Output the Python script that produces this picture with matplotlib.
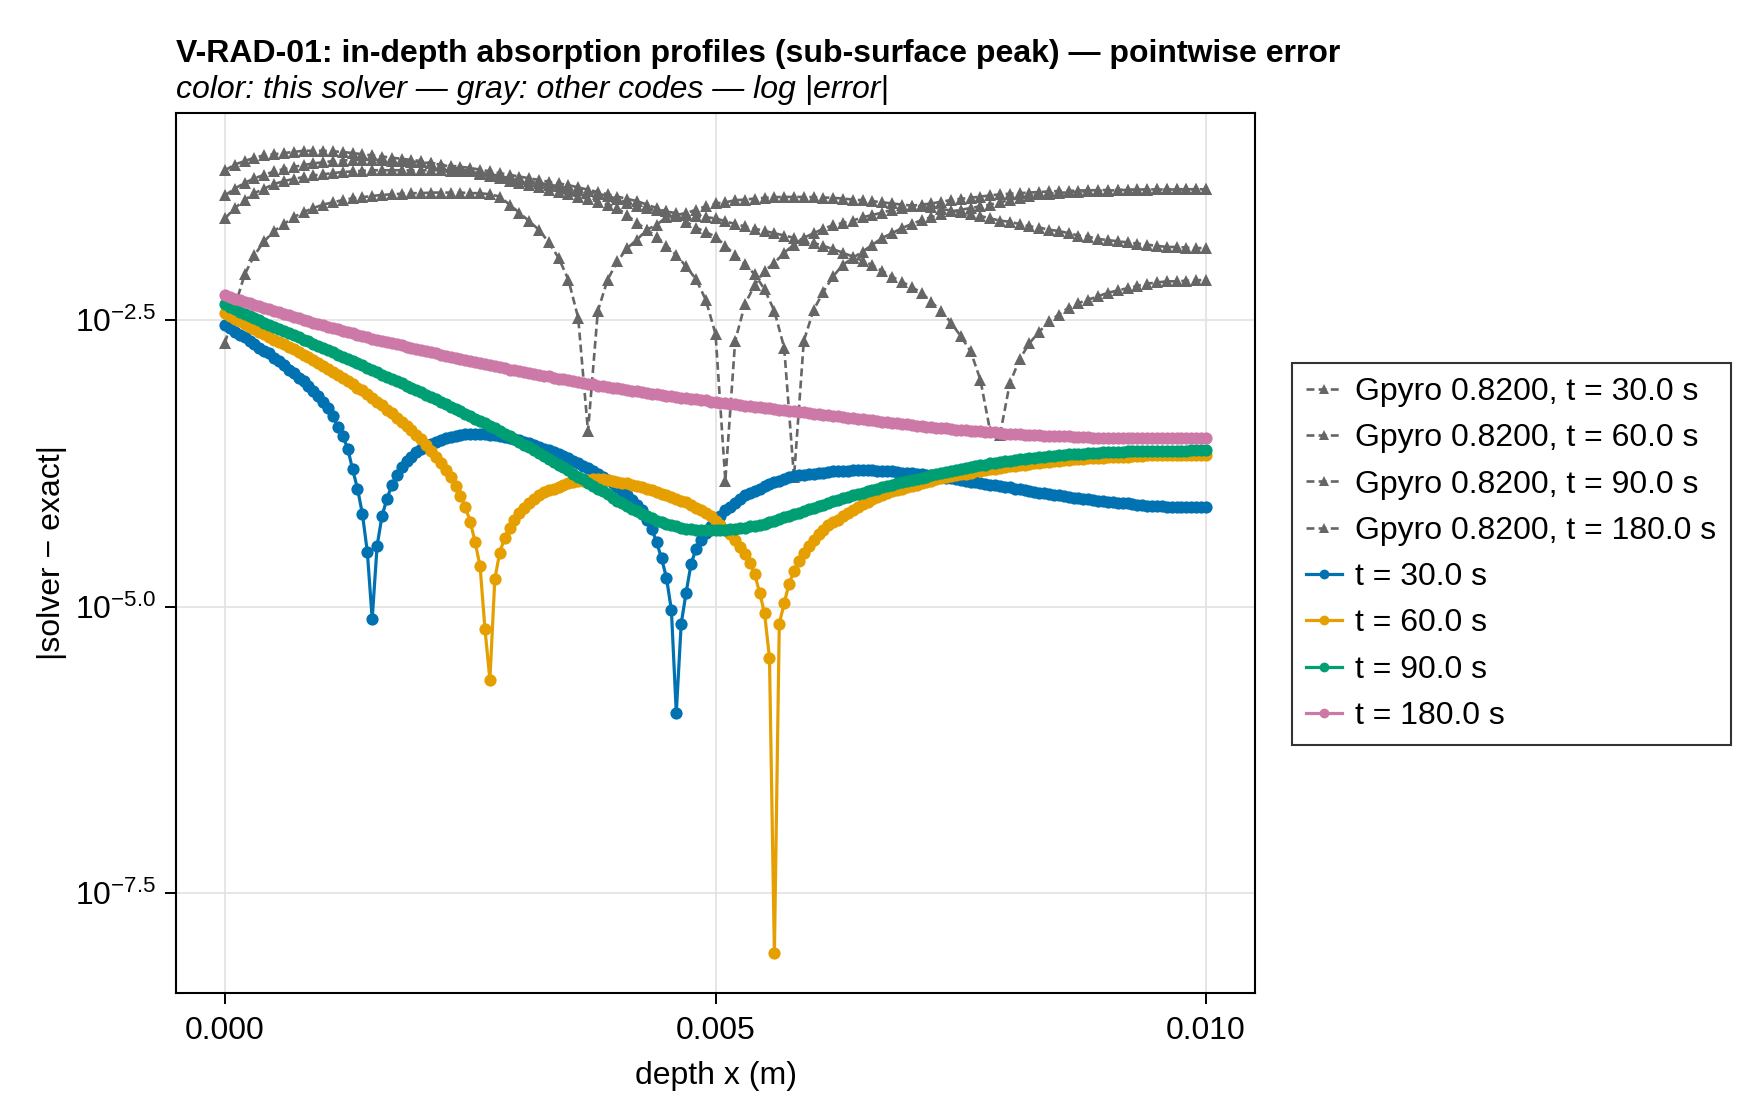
import numpy as np
import matplotlib
matplotlib.use('Agg')
import matplotlib.pyplot as plt
from matplotlib.ticker import NullLocator

plt.rcParams['font.family'] = ['Liberation Sans', 'DejaVu Sans']
plt.rcParams['mathtext.fontset'] = 'custom'
plt.rcParams['mathtext.rm'] = 'Liberation Sans'
plt.rcParams['mathtext.it'] = 'Liberation Sans:italic'
plt.rcParams['mathtext.bf'] = 'Liberation Sans:bold'

# ---------------------------------------------------------------- data
# depth grids (mm): solver mesh every 0.05 mm, Gpyro output every 0.1 mm
depth_solver_mm = np.linspace(0.0, 10.0, 201)
depth_gpyro_mm = np.linspace(0.0, 10.0, 101)

times_s = [30.0, 60.0, 90.0, 180.0]
solver_colors = ['#0072B2', '#E69F00', '#009E73', '#CC79A7']

# log10 |solver - exact|, this solver
log_err_t30 = [
    -2.54, -2.57, -2.60, -2.63, -2.65, -2.68, -2.71, -2.74, -2.77, -2.79,
    -2.83, -2.86, -2.89, -2.93, -2.96, -3.00, -3.03, -3.07, -3.12, -3.16,
    -3.21, -3.27, -3.34, -3.43, -3.51, -3.62, -3.80, -3.97, -4.19, -4.52,
    -5.11, -4.47, -4.21, -4.06, -3.94, -3.85, -3.78, -3.73, -3.69, -3.65,
    -3.62, -3.60, -3.58, -3.56, -3.545, -3.53, -3.52, -3.51, -3.50, -3.495,
    -3.49, -3.49, -3.49, -3.495, -3.50, -3.505, -3.51, -3.52, -3.53, -3.54,
    -3.55, -3.56, -3.575, -3.59, -3.605, -3.62, -3.635, -3.65, -3.67, -3.685,
    -3.705, -3.725, -3.75, -3.77, -3.79, -3.82, -3.84, -3.87, -3.895, -3.92,
    -3.96, -3.99, -4.03, -4.07, -4.11, -4.16, -4.24, -4.32, -4.44, -4.58,
    -4.75, -5.03, -5.93, -5.15, -4.88, -4.63, -4.50, -4.42, -4.36, -4.30,
    -4.25, -4.21, -4.16, -4.13, -4.10, -4.06, -4.03, -4.01, -3.99, -3.97,
    -3.95, -3.93, -3.915, -3.90, -3.885, -3.87, -3.86, -3.855, -3.85, -3.845,
    -3.84, -3.835, -3.83, -3.825, -3.82, -3.82, -3.815, -3.815, -3.81, -3.81,
    -3.81, -3.81, -3.81, -3.815, -3.815, -3.82, -3.82, -3.825, -3.83, -3.83,
    -3.835, -3.84, -3.845, -3.85, -3.855, -3.86, -3.87, -3.875, -3.88, -3.89,
    -3.895, -3.905, -3.91, -3.915, -3.92, -3.93, -3.935, -3.94, -3.95, -3.955,
    -3.96, -3.97, -3.975, -3.985, -3.99, -4.00, -4.005, -4.01, -4.02, -4.025,
    -4.03, -4.035, -4.04, -4.05, -4.055, -4.06, -4.065, -4.07, -4.075, -4.08,
    -4.085, -4.09, -4.095, -4.10, -4.10, -4.105, -4.11, -4.115, -4.12, -4.12,
    -4.125, -4.125, -4.13, -4.13, -4.13, -4.13, -4.135, -4.135, -4.135, -4.135,
    -4.135,
]
log_err_t60 = [
    -2.44, -2.46, -2.49, -2.51, -2.53, -2.555, -2.58, -2.60, -2.62, -2.645,
    -2.67, -2.69, -2.71, -2.735, -2.755, -2.78, -2.80, -2.825, -2.85, -2.875,
    -2.90, -2.925, -2.95, -2.975, -3.00, -3.03, -3.06, -3.09, -3.11, -3.14,
    -3.18, -3.21, -3.24, -3.28, -3.31, -3.35, -3.385, -3.42, -3.46, -3.50,
    -3.54, -3.59, -3.64, -3.69, -3.75, -3.81, -3.87, -3.95, -4.035, -4.13,
    -4.26, -4.44, -4.65, -5.20, -5.64, -4.76, -4.53, -4.40, -4.31, -4.24,
    -4.18, -4.14, -4.10, -4.06, -4.03, -4.00, -3.98, -3.97, -3.955, -3.94,
    -3.925, -3.915, -3.905, -3.90, -3.895, -3.89, -3.89, -3.89, -3.895, -3.90,
    -3.91, -3.92, -3.925, -3.935, -3.945, -3.955, -3.97, -3.985, -4.00, -4.015,
    -4.03, -4.045, -4.06, -4.075, -4.09, -4.11, -4.14, -4.16, -4.185, -4.21,
    -4.25, -4.29, -4.33, -4.37, -4.42, -4.48, -4.54, -4.62, -4.72, -4.88,
    -5.06, -5.45, -8.03, -5.15, -4.97, -4.80, -4.69, -4.60, -4.53, -4.47,
    -4.42, -4.37, -4.33, -4.29, -4.26, -4.24, -4.21, -4.18, -4.155, -4.13,
    -4.105, -4.085, -4.065, -4.045, -4.03, -4.01, -3.995, -3.98, -3.97, -3.955,
    -3.945, -3.935, -3.925, -3.91, -3.90, -3.89, -3.88, -3.87, -3.86, -3.855,
    -3.845, -3.84, -3.83, -3.82, -3.815, -3.81, -3.80, -3.795, -3.79, -3.78,
    -3.775, -3.77, -3.765, -3.76, -3.755, -3.75, -3.745, -3.74, -3.735, -3.73,
    -3.725, -3.72, -3.72, -3.715, -3.71, -3.71, -3.705, -3.70, -3.70, -3.70,
    -3.695, -3.695, -3.69, -3.69, -3.69, -3.685, -3.685, -3.685, -3.68, -3.68,
    -3.68, -3.68, -3.68, -3.68, -3.68, -3.675, -3.675, -3.675, -3.675, -3.675,
    -3.675,
]
log_err_t90 = [
    -2.36, -2.38, -2.40, -2.43, -2.445, -2.465, -2.48, -2.50, -2.52, -2.54,
    -2.56, -2.575, -2.595, -2.61, -2.63, -2.65, -2.67, -2.685, -2.705, -2.725,
    -2.745, -2.76, -2.78, -2.80, -2.82, -2.84, -2.855, -2.875, -2.895, -2.915,
    -2.935, -2.955, -2.975, -2.995, -3.01, -3.03, -3.05, -3.07, -3.09, -3.11,
    -3.13, -3.15, -3.17, -3.19, -3.21, -3.235, -3.255, -3.275, -3.295, -3.315,
    -3.34, -3.36, -3.38, -3.40, -3.425, -3.445, -3.47, -3.49, -3.515, -3.54,
    -3.56, -3.585, -3.61, -3.635, -3.66, -3.685, -3.71, -3.735, -3.76, -3.785,
    -3.81, -3.84, -3.865, -3.89, -3.92, -3.945, -3.97, -3.995, -4.02, -4.05,
    -4.075, -4.10, -4.125, -4.15, -4.17, -4.19, -4.21, -4.23, -4.25, -4.265,
    -4.28, -4.29, -4.30, -4.31, -4.32, -4.325, -4.33, -4.33, -4.335, -4.335,
    -4.335, -4.33, -4.33, -4.325, -4.32, -4.315, -4.31, -4.30, -4.295, -4.285,
    -4.275, -4.26, -4.25, -4.235, -4.22, -4.21, -4.195, -4.18, -4.165, -4.15,
    -4.14, -4.125, -4.11, -4.095, -4.08, -4.07, -4.055, -4.04, -4.03, -4.015,
    -4.005, -3.99, -3.98, -3.97, -3.955, -3.945, -3.935, -3.925, -3.915, -3.905,
    -3.895, -3.885, -3.875, -3.865, -3.855, -3.845, -3.835, -3.825, -3.815, -3.81,
    -3.80, -3.79, -3.78, -3.775, -3.765, -3.76, -3.75, -3.745, -3.74, -3.73,
    -3.725, -3.72, -3.715, -3.71, -3.705, -3.70, -3.695, -3.69, -3.685, -3.683,
    -3.68, -3.675, -3.672, -3.67, -3.667, -3.664, -3.66, -3.658, -3.656, -3.654,
    -3.652, -3.65, -3.649, -3.648, -3.646, -3.645, -3.644, -3.643, -3.642, -3.641,
    -3.64, -3.64, -3.639, -3.639, -3.638, -3.638, -3.638, -3.637, -3.637, -3.637,
    -3.637,
]
log_err_t180 = [
    -2.28, -2.295, -2.31, -2.325, -2.34, -2.35, -2.365, -2.375, -2.39, -2.40,
    -2.415, -2.43, -2.445, -2.455, -2.47, -2.48, -2.495, -2.505, -2.52, -2.53,
    -2.545, -2.555, -2.57, -2.58, -2.59, -2.60, -2.615, -2.625, -2.635, -2.645,
    -2.66, -2.67, -2.68, -2.69, -2.70, -2.71, -2.72, -2.73, -2.74, -2.75,
    -2.76, -2.77, -2.78, -2.79, -2.80, -2.81, -2.82, -2.83, -2.84, -2.845,
    -2.855, -2.865, -2.875, -2.885, -2.89, -2.90, -2.91, -2.92, -2.93, -2.935,
    -2.945, -2.955, -2.96, -2.97, -2.98, -2.985, -2.99, -3.00, -3.01, -3.015,
    -3.025, -3.03, -3.04, -3.045, -3.055, -3.06, -3.07, -3.075, -3.08, -3.09,
    -3.095, -3.10, -3.11, -3.115, -3.12, -3.125, -3.135, -3.14, -3.145, -3.15,
    -3.16, -3.165, -3.17, -3.175, -3.18, -3.185, -3.19, -3.195, -3.20, -3.21,
    -3.215, -3.22, -3.225, -3.23, -3.235, -3.24, -3.245, -3.25, -3.255, -3.26,
    -3.265, -3.27, -3.275, -3.28, -3.285, -3.29, -3.295, -3.30, -3.305, -3.31,
    -3.315, -3.32, -3.325, -3.33, -3.335, -3.34, -3.345, -3.35, -3.355, -3.36,
    -3.365, -3.37, -3.375, -3.38, -3.385, -3.39, -3.395, -3.40, -3.405, -3.41,
    -3.415, -3.42, -3.425, -3.43, -3.435, -3.44, -3.44, -3.445, -3.45, -3.455,
    -3.46, -3.46, -3.465, -3.47, -3.47, -3.475, -3.48, -3.48, -3.485, -3.49,
    -3.49, -3.495, -3.495, -3.50, -3.50, -3.505, -3.505, -3.51, -3.51, -3.51,
    -3.515, -3.515, -3.515, -3.52, -3.52, -3.52, -3.52, -3.525, -3.525, -3.525,
    -3.525, -3.525, -3.53, -3.53, -3.53, -3.53, -3.53, -3.53, -3.53, -3.53,
    -3.53, -3.53, -3.53, -3.53, -3.53, -3.53, -3.53, -3.53, -3.53, -3.53,
    -3.53,
]

# log10 |Gpyro - exact|
log_gpyro_t30 = [
    -2.70, -2.38, -2.10, -1.93, -1.81, -1.72, -1.66, -1.60, -1.555, -1.52,
    -1.49, -1.47, -1.45, -1.435, -1.425, -1.415, -1.405, -1.40, -1.395, -1.39,
    -1.39, -1.385, -1.385, -1.385, -1.385, -1.39, -1.39, -1.40, -1.42, -1.49,
    -1.56, -1.635, -1.71, -1.82, -1.955, -2.145, -2.48, -3.47, -2.42, -2.145,
    -1.985, -1.87, -1.795, -1.71, -1.665, -1.60, -1.58, -1.565, -1.535, -1.505,
    -1.48, -1.47, -1.452, -1.446, -1.437, -1.431, -1.425, -1.423, -1.423, -1.423,
    -1.425, -1.428, -1.431, -1.437, -1.446, -1.452, -1.46, -1.47, -1.48, -1.49,
    -1.498, -1.504, -1.51, -1.527, -1.542, -1.557, -1.57, -1.59, -1.61, -1.63,
    -1.64, -1.66, -1.68, -1.69, -1.71, -1.72, -1.74, -1.76, -1.77, -1.79,
    -1.80, -1.81, -1.82, -1.83, -1.84, -1.85, -1.86, -1.86, -1.865, -1.87,
    -1.87,
]
log_gpyro_t60 = [
    -1.19, -1.14, -1.11, -1.08, -1.06, -1.05, -1.04, -1.03, -1.02, -1.02,
    -1.02, -1.025, -1.03, -1.04, -1.05, -1.06, -1.07, -1.08, -1.09, -1.10,
    -1.11, -1.125, -1.14, -1.16, -1.18, -1.20, -1.22, -1.24, -1.26, -1.28,
    -1.30, -1.32, -1.34, -1.36, -1.38, -1.40, -1.42, -1.44, -1.465, -1.49,
    -1.52, -1.585, -1.65, -1.71, -1.77, -1.85, -1.93, -2.03, -2.14, -2.32,
    -2.62, -3.90, -2.68, -2.36, -2.19, -2.07, -2.00, -1.91, -1.84, -1.78,
    -1.74, -1.70, -1.67, -1.65, -1.63, -1.60, -1.58, -1.56, -1.535, -1.52,
    -1.50, -1.49, -1.48, -1.465, -1.45, -1.44, -1.43, -1.42, -1.41, -1.40,
    -1.395, -1.39, -1.385, -1.38, -1.375, -1.372, -1.37, -1.367, -1.365, -1.364,
    -1.362, -1.361, -1.36, -1.358, -1.358, -1.357, -1.357, -1.356, -1.356, -1.356,
    -1.356,
]
log_gpyro_t90 = [
    -1.41, -1.35, -1.30, -1.26, -1.23, -1.20, -1.18, -1.16, -1.145, -1.13,
    -1.12, -1.11, -1.105, -1.10, -1.10, -1.10, -1.10, -1.105, -1.11, -1.115,
    -1.12, -1.13, -1.14, -1.15, -1.16, -1.17, -1.185, -1.20, -1.215, -1.23,
    -1.245, -1.26, -1.275, -1.29, -1.305, -1.32, -1.34, -1.36, -1.38, -1.40,
    -1.42, -1.44, -1.46, -1.49, -1.52, -1.55, -1.59, -1.64, -1.69, -1.73,
    -1.77, -1.85, -1.93, -2.01, -2.10, -2.23, -2.42, -2.74, -3.87, -2.68,
    -2.41, -2.25, -2.115, -2.015, -1.955, -1.90, -1.84, -1.78, -1.74, -1.695,
    -1.66, -1.625, -1.60, -1.575, -1.55, -1.535, -1.52, -1.505, -1.49, -1.47,
    -1.45, -1.43, -1.415, -1.40, -1.393, -1.388, -1.382, -1.376, -1.373, -1.37,
    -1.367, -1.364, -1.362, -1.361, -1.36, -1.358, -1.358, -1.358, -1.358, -1.358,
    -1.358,
]
log_gpyro_t180 = [
    -1.61, -1.52, -1.45, -1.39, -1.35, -1.31, -1.285, -1.265, -1.25, -1.235,
    -1.225, -1.215, -1.205, -1.20, -1.195, -1.19, -1.19, -1.19, -1.19, -1.19,
    -1.19, -1.19, -1.19, -1.195, -1.195, -1.20, -1.21, -1.225, -1.24, -1.26,
    -1.27, -1.285, -1.30, -1.315, -1.33, -1.345, -1.36, -1.375, -1.395, -1.415,
    -1.44, -1.475, -1.50, -1.52, -1.535, -1.55, -1.565, -1.58, -1.59, -1.60,
    -1.61, -1.635, -1.66, -1.68, -1.70, -1.72, -1.74, -1.76, -1.78, -1.80,
    -1.825, -1.85, -1.88, -1.91, -1.945, -1.98, -2.02, -2.07, -2.12, -2.165,
    -2.21, -2.26, -2.34, -2.42, -2.52, -2.64, -2.77, -3.02, -3.47, -3.50,
    -3.05, -2.84, -2.70, -2.60, -2.51, -2.45, -2.39, -2.35, -2.32, -2.29,
    -2.26, -2.24, -2.22, -2.20, -2.18, -2.17, -2.16, -2.16, -2.155, -2.15,
    -2.15,
]

solver_logs = [log_err_t30, log_err_t60, log_err_t90, log_err_t180]
gpyro_logs = [log_gpyro_t30, log_gpyro_t60, log_gpyro_t90, log_gpyro_t180]

ytick_exp = [-2.5, -5.0, -7.5]
xtick_vals = [0.0, 0.005, 0.010]
xtick_labels = ['0.000', '0.005', '0.010']

# ---------------------------------------------------------------- figure
GRAY = '#666666'
FS = 23

fig = plt.figure(figsize=(17.6, 11.2), dpi=100)
ax = fig.add_axes([0.1, 0.1134, 0.6131, 0.7857])

for t, lg in zip(times_s, gpyro_logs):
    ax.plot(depth_gpyro_mm * 1e-3, 10.0 ** np.asarray(lg),
            color=GRAY, lw=1.9, ls=(0, (3.0, 1.6)),
            marker='^', ms=9.0, mew=0,
            label=f'Gpyro 0.8200, t = {t:.1f} s')

for t, lg, c in zip(times_s, solver_logs, solver_colors):
    ax.plot(depth_solver_mm * 1e-3, 10.0 ** np.asarray(lg),
            color=c, lw=2.3, marker='o', ms=8.8, mew=0,
            label=f't = {t:.1f} s')

ax.set_yscale('log')
ax.set_xlim(-0.0005, 0.0105)
ax.set_ylim(10 ** -8.375, 10 ** -0.69)
ax.set_xticks(xtick_vals)
ax.set_xticklabels(xtick_labels)
ax.set_yticks([10 ** e for e in ytick_exp])
ax.set_yticklabels([rf'$10^{{{e:.1f}}}$' for e in ytick_exp])
ax.yaxis.set_minor_locator(NullLocator())
ax.tick_params(axis='both', which='major', direction='out', length=8,
               width=1.4, labelsize=FS, color='black')
ax.tick_params(axis='x', pad=8.5)
ax.tick_params(axis='y', pad=6)
ax.grid(True, color='#e2e2e2', lw=1.2)
ax.set_axisbelow(True)
for sp in ax.spines.values():
    sp.set_linewidth(1.5)
    sp.set_color('black')

fig.text(0.5 * (0.1 + 0.7131), 1 - 1076 / 1120, 'depth x (m)',
         ha='center', va='center', fontsize=FS)
fig.text(52 / 1760, 1 - 553 / 1120, '|solver \u2212 exact|',
         ha='center', va='center', rotation=90, fontsize=FS)

fig.text(0.1, 1 - 62 / 1120,
         'V-RAD-01: in-depth absorption profiles (sub-surface peak) \u2014 pointwise error',
         ha='left', va='baseline', fontsize=FS, fontweight='bold')
fig.text(0.1, 1 - 98 / 1120,
         'color: this solver \u2014 gray: other codes \u2014 log |error|',
         ha='left', va='baseline', fontsize=FS, style='italic')

leg = fig.legend(*ax.get_legend_handles_labels(), loc='center left',
                 bbox_to_anchor=(1292 / 1760, 1 - 554 / 1120),
                 fontsize=FS, frameon=True, fancybox=False,
                 handlelength=1.13, handletextpad=0.4, labelspacing=0.51,
                 borderpad=0.45, borderaxespad=0.0, numpoints=1,
                 markerscale=0.8)
leg.get_frame().set_edgecolor('black')
leg.get_frame().set_linewidth(1.5)

fig.savefig('out.png', dpi=100, facecolor='white')
